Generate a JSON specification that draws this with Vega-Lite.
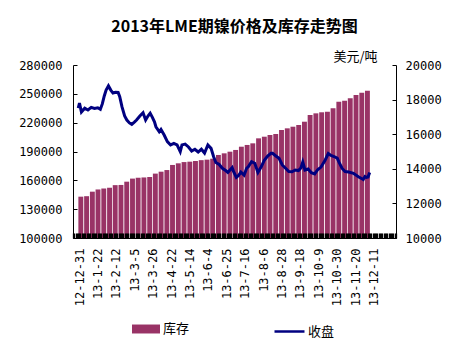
{
  "$schema": "https://vega.github.io/schema/vega-lite/v6.json",
  "width": 323,
  "height": 173,
  "autosize": {"type": "none"},
  "padding": {"left": 73, "top": 65, "right": 77, "bottom": 113},
  "background": "white",
  "config": {"view": {"stroke": null}, "axisX": {"zindex": 1}},
  "title": {"text": "2013年LME期镍价格及库存走势图", "font": "Noto Sans CJK SC", "fontSize": 16, "fontWeight": "bold", "color": "black", "anchor": "middle", "offset": 15},
  "datasets": {
    "stock": [{"i":2.3,"stock":143000},{"i":7.0,"stock":143500},{"i":11.7,"stock":148200},{"i":16.3,"stock":150500},{"i":21.0,"stock":151500},{"i":25.7,"stock":152300},{"i":30.3,"stock":155000},{"i":35.0,"stock":155200},{"i":39.7,"stock":158600},{"i":44.4,"stock":161800},{"i":49.0,"stock":162700},{"i":53.7,"stock":163000},{"i":58.4,"stock":163500},{"i":63.0,"stock":167000},{"i":67.7,"stock":169000},{"i":72.4,"stock":170700},{"i":77.0,"stock":176000},{"i":81.7,"stock":177700},{"i":86.4,"stock":179000},{"i":91.1,"stock":179400},{"i":95.7,"stock":180100},{"i":100.4,"stock":181000},{"i":105.1,"stock":181500},{"i":109.7,"stock":182500},{"i":114.4,"stock":186400},{"i":119.1,"stock":188100},{"i":123.8,"stock":189800},{"i":128.4,"stock":191600},{"i":133.1,"stock":195000},{"i":137.8,"stock":196800},{"i":142.4,"stock":198500},{"i":147.1,"stock":203700},{"i":151.8,"stock":205400},{"i":156.4,"stock":207200},{"i":161.1,"stock":208200},{"i":165.8,"stock":212400},{"i":170.5,"stock":214100},{"i":175.1,"stock":215800},{"i":179.8,"stock":217600},{"i":184.5,"stock":221000},{"i":189.1,"stock":228000},{"i":193.8,"stock":229700},{"i":198.5,"stock":230800},{"i":203.2,"stock":231400},{"i":207.8,"stock":235000},{"i":212.5,"stock":241800},{"i":217.2,"stock":242900},{"i":221.8,"stock":245300},{"i":226.5,"stock":248800},{"i":231.2,"stock":251200},{"i":235.8,"stock":253300}],
    "price": [{"i":0.2,"close":17510},{"i":1.2,"close":17800},{"i":2.8,"close":17280},{"i":5.5,"close":17500},{"i":8.1,"close":17400},{"i":10.8,"close":17550},{"i":13.4,"close":17490},{"i":16.1,"close":17530},{"i":18.2,"close":17440},{"i":19.8,"close":17750},{"i":21.4,"close":18210},{"i":22.9,"close":18550},{"i":24.8,"close":18790},{"i":26.7,"close":18550},{"i":28.5,"close":18380},{"i":30.6,"close":18420},{"i":32.7,"close":18410},{"i":34.0,"close":18170},{"i":35.8,"close":17590},{"i":38.0,"close":17050},{"i":39.8,"close":16820},{"i":41.9,"close":16650},{"i":43.8,"close":16570},{"i":45.9,"close":16700},{"i":47.7,"close":16820},{"i":50.4,"close":17050},{"i":53.0,"close":17240},{"i":55.1,"close":16820},{"i":57.0,"close":17050},{"i":58.8,"close":17210},{"i":60.5,"close":16990},{"i":62.3,"close":16720},{"i":63.5,"close":16430},{"i":66.2,"close":16140},{"i":67.6,"close":16270},{"i":70.2,"close":15950},{"i":72.8,"close":15570},{"i":75.4,"close":15380},{"i":78.1,"close":15470},{"i":80.7,"close":15380},{"i":83.3,"close":14990},{"i":84.7,"close":15380},{"i":87.3,"close":15430},{"i":90.0,"close":15260},{"i":92.6,"close":15030},{"i":95.2,"close":15130},{"i":97.9,"close":14970},{"i":100.5,"close":15130},{"i":103.1,"close":14910},{"i":105.8,"close":15380},{"i":108.4,"close":15180},{"i":110.5,"close":14700},{"i":112.3,"close":14360},{"i":115.0,"close":14250},{"i":117.6,"close":14030},{"i":120.3,"close":13900},{"i":122.1,"close":13790},{"i":124.2,"close":13960},{"i":125.6,"close":14070},{"i":126.8,"close":13830},{"i":129.0,"close":13500},{"i":130.8,"close":13610},{"i":132.7,"close":13810},{"i":135.3,"close":13640},{"i":137.4,"close":14030},{"i":138.7,"close":14120},{"i":141.4,"close":14410},{"i":144.0,"close":14320},{"i":146.6,"close":13790},{"i":149.3,"close":14120},{"i":151.9,"close":14510},{"i":154.5,"close":14740},{"i":157.2,"close":14900},{"i":158.5,"close":14900},{"i":161.2,"close":14740},{"i":163.8,"close":14610},{"i":166.4,"close":14220},{"i":169.1,"close":14030},{"i":171.7,"close":13840},{"i":174.3,"close":13830},{"i":177.0,"close":13930},{"i":179.6,"close":13900},{"i":181.6,"close":14050},{"i":183.1,"close":14390},{"i":184.9,"close":13930},{"i":187.5,"close":13990},{"i":190.1,"close":13770},{"i":192.8,"close":13700},{"i":195.4,"close":13960},{"i":198.0,"close":14100},{"i":201.2,"close":14480},{"i":203.9,"close":14880},{"i":206.1,"close":14770},{"i":208.6,"close":14710},{"i":211.2,"close":14620},{"i":212.6,"close":14390},{"i":215.2,"close":14020},{"i":217.6,"close":13840},{"i":220.5,"close":13810},{"i":224.4,"close":13740},{"i":228.4,"close":13540},{"i":231.0,"close":13440},{"i":232.4,"close":13380},{"i":233.8,"close":13550},{"i":235.0,"close":13500},{"i":236.3,"close":13530},{"i":237.6,"close":13790}]
  },
  "encoding": {
    "x": {
      "field": "i", "type": "quantitative",
      "scale": {"domain": [0, 255], "nice": false, "zero": false},
      "axis": {
        "title": null, "grid": false, "tickCount": 255, "zindex": 1,
        "labelExpr": "datum.value % 15 == 0 && datum.value <= 240 ? ['12-12-31','13-1-22','13-2-12','13-3-5','13-3-26','13-4-22','13-5-14','13-6-4','13-6-25','13-7-16','13-8-6','13-8-28','13-9-18','13-10-9','13-10-30','13-11-20','13-12-11'][datum.value/15] : ''",
        "labelAngle": -90, "labelOverlap": false, "labelFlush": false, "labelBound": false,
        "labelFont": "DejaVu Sans Mono", "labelFontSize": 12, "labelColor": "black",
        "labelPadding": 15, "labelOffset": 1,
        "tickSize": -5, "tickColor": "black", "tickWidth": 1.3,
        "domainColor": "black", "domainWidth": 1
      }
    }
  },
  "layer": [
    {
      "data": {"name": "stock"},
      "mark": {"type": "bar", "size": 4.9},
      "encoding": {
        "y": {
          "field": "stock", "type": "quantitative",
          "scale": {"domain": [100000, 280000], "zero": false, "nice": false},
          "axis": {
            "orient": "left", "title": null, "grid": false,
            "values": [100000, 130000, 160000, 190000, 220000, 250000, 280000],
            "format": "d",
            "labelFont": "DejaVu Sans Mono", "labelFontSize": 12, "labelColor": "black",
            "labelPadding": 15, "tickSize": -4, "tickColor": "black",
            "domainColor": "black"
          }
        },
        "y2": {"datum": 100000},
        "fill": {
          "datum": "库存",
          "scale": {"range": ["#993366"]},
          "legend": {
            "title": null, "orient": "none", "legendX": 59, "legendY": 250,
            "symbolType": "M-1,-0.32H1V0.32H-1Z", "symbolSize": 784,
            "symbolStrokeWidth": 0,
            "labelFont": "Noto Sans CJK SC", "labelFontSize": 13, "labelColor": "black", "labelOffset": 3
          }
        }
      }
    },
    {
      "data": {"name": "price"},
      "mark": {"type": "line", "strokeWidth": 3},
      "encoding": {
        "y": {
          "field": "close", "type": "quantitative",
          "scale": {"domain": [10000, 20000], "zero": false, "nice": false},
          "axis": {
            "orient": "right", "grid": false,
            "values": [10000, 12000, 14000, 16000, 18000, 20000],
            "format": "d",
            "title": "美元/吨", "titleAngle": 0, "titleX": -41, "titleY": -9,
            "titleFont": "Noto Sans CJK SC", "titleFontSize": 13, "titleFontWeight": "normal",
            "titleAlign": "center", "titleBaseline": "middle", "titleColor": "black",
            "labelFont": "DejaVu Sans Mono", "labelFontSize": 12, "labelColor": "black",
            "labelPadding": 13, "tickSize": -4, "tickColor": "black",
            "domainColor": "black"
          }
        },
        "stroke": {
          "datum": "收盘",
          "scale": {"range": ["#000080"]},
          "legend": {
            "title": null, "orient": "none", "legendX": 200, "legendY": 250,
            "symbolType": "stroke", "symbolSize": 900, "symbolStrokeWidth": 2.5,
            "labelFont": "Noto Sans CJK SC", "labelFontSize": 13, "labelColor": "black", "labelOffset": 2
          }
        }
      }
    }
  ],
  "resolve": {"scale": {"y": "independent"}}
}
